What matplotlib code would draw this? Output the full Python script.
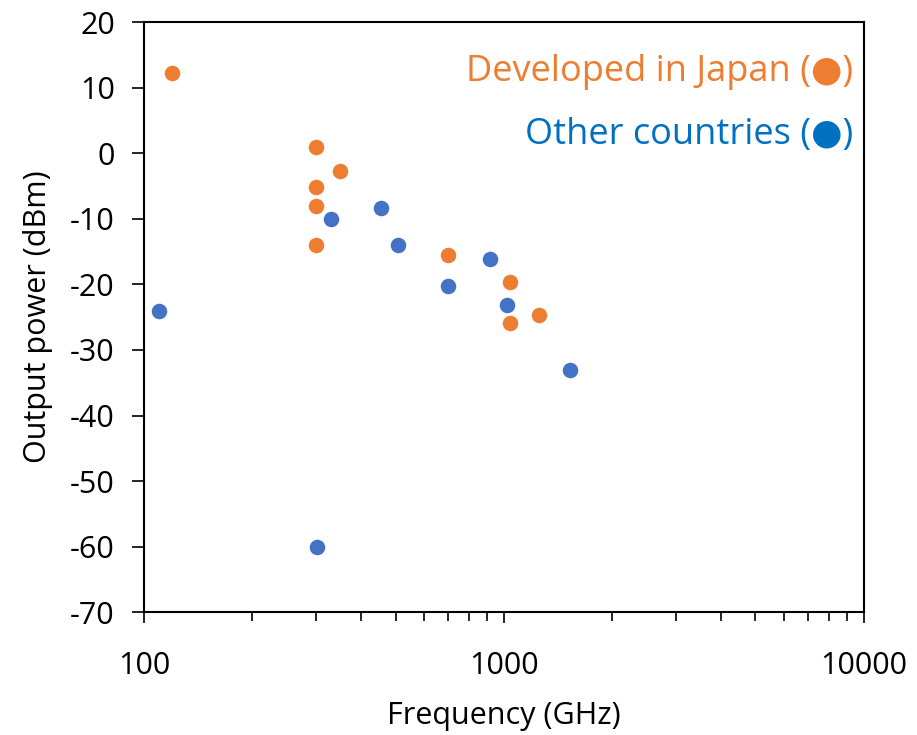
import matplotlib
matplotlib.use("Agg")
import matplotlib.pyplot as plt
from matplotlib.ticker import LogLocator, FixedLocator, NullFormatter

plt.rcParams['font.family'] = ['Open Sans', 'DejaVu Sans']
plt.rcParams['axes.unicode_minus'] = False

# sources developed in Japan
japan_freq = [120, 300, 350, 300, 300, 300, 700, 1040, 1040, 1250]
japan_power = [12.3, 1.0, -2.7, -5.2, -8.0, -14.0, -15.5, -19.6, -25.9, -24.6]

# sources from other countries
other_freq = [110, 302, 330, 455, 508, 700, 914, 1020, 1530]
other_power = [-24.0, -60.0, -10.0, -8.3, -14.0, -20.2, -16.2, -23.1, -33.1]

orange = '#ED7D31'
blue_mark = '#4472C4'
blue_text = '#0070C0'

fig = plt.figure(figsize=(9.17, 7.35), dpi=100)
ax = fig.add_axes([0.157, 0.167, 0.785, 0.803])

ax.scatter(japan_freq, japan_power, s=125, color=orange, linewidths=0, zorder=3)
ax.scatter(other_freq, other_power, s=125, color=blue_mark, linewidths=0, zorder=3)

ax.set_xscale('log')
ax.set_xlim(100, 10000)
ax.set_ylim(-70, 20)
ax.xaxis.set_major_locator(FixedLocator([100, 1000, 10000]))
ax.xaxis.set_minor_locator(LogLocator(base=10, subs=range(2, 10)))
ax.xaxis.set_minor_formatter(NullFormatter())
ax.set_xticklabels(['100', '1000', '10000'])
ax.set_yticks(range(-70, 21, 10))

for s in ax.spines.values():
    s.set_linewidth(1.5)
ax.tick_params(axis='y', which='major', direction='out', length=9, width=1.2,
               labelsize=22, pad=12)
ax.tick_params(axis='x', which='major', direction='out', length=8, width=1.2,
               labelsize=22, pad=20)
ax.tick_params(axis='x', which='minor', direction='out', length=6.5, width=1.2)

ax.set_xlabel('Frequency (GHz)', fontsize=22, labelpad=14)
ax.set_ylabel('Output power (dBm)', fontsize=22, labelpad=12)

ax.text(0.985, 0.915, 'Developed in Japan (●)', transform=ax.transAxes,
        ha='right', va='center', fontsize=26, color=orange)
ax.text(0.985, 0.808, 'Other countries (●)', transform=ax.transAxes,
        ha='right', va='center', fontsize=26, color=blue_text)

fig.savefig('out.png', dpi=100)
